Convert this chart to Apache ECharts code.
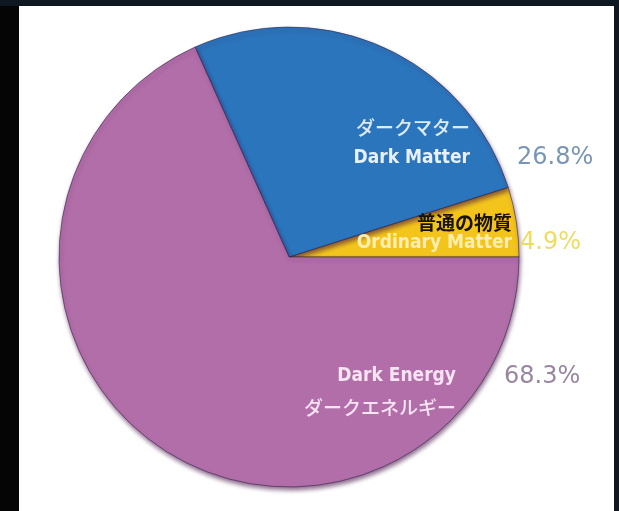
<!DOCTYPE html>
<html>
<head>
<meta charset="utf-8">
<script src="https://cdn.jsdelivr.net/npm/echarts@6/dist/echarts.min.js"></script>
<style>
  html, body { margin: 0; padding: 0; background: #050505; }
  #chart { width: 619px; height: 511px; }
</style>
</head>
<body>
<div id="chart"></div>
<script>
// 宇宙の組成
const namesJa = ['普通の物質', 'ダークマター', 'ダークエネルギー']
const namesEn = ['Ordinary Matter', 'Dark Matter', 'Dark Energy']
const values = [4.9, 26.8, 68.3]
const colors = ['#f3c41c', '#2b75bc', '#b26ea8']
const pctColors = ['#eedc5e', '#7896b6', '#9a86a0']

// label placement (x, y) per slice
const namePos = [[512, 233], [470, 143], [456, 392]]
const pctPos = [[520, 243], [517, 158], [504, 377]]

const chart = echarts.init(document.getElementById('chart'))

const en = 'DejaVu Sans Condensed'
const jp = 'Noto Sans CJK JP'
const nameRich = {
    jpBlack: { fontFamily: jp, fontSize: 19, fontWeight: 'bold', color: '#1a1200', lineHeight: 20, align: 'right' },
    enYellow: { fontFamily: en, fontSize: 19, fontWeight: 'bold', color: '#fbeeb0', lineHeight: 20, align: 'right' },
    jp: { fontFamily: jp, fontSize: 19, fontWeight: 500, color: '#dfeaf8', lineHeight: 31, align: 'right' },
    en: { fontFamily: en, fontSize: 19, fontWeight: 'bold', color: '#e8f0fa', lineHeight: 31, align: 'right' },
    jpP: { fontFamily: jp, fontSize: 19, fontWeight: 500, color: '#f6e4f2', lineHeight: 31, align: 'right' },
    enP: { fontFamily: en, fontSize: 19, fontWeight: 'bold', color: '#f6e4f2', lineHeight: 31, align: 'right' }
}

const sliceData = values.map((v, i) => ({
    value: v,
    name: namesEn[i],
    itemStyle: { color: colors[i] }
}))

const option = {
    backgroundColor: '#050505',
    animation: false,
    graphic: [
        { type: 'rect', z: -10, shape: { x: 0, y: 0, width: 619, height: 6 }, style: { fill: '#0f1822' } },
        { type: 'rect', z: -10, shape: { x: 614, y: 0, width: 5, height: 511 }, style: { fill: '#0f1822' } },
        { type: 'rect', z: -10, shape: { x: 19, y: 6, width: 595, height: 505 }, style: { fill: '#ffffff' } }
    ],
    series: [
        {
            type: 'pie',
            center: [289, 257],
            radius: 230,
            startAngle: 0,
            clockwise: false,
            silent: true,
            itemStyle: {
                borderColor: 'rgba(40,30,70,0.55)',
                borderWidth: 1,
                shadowColor: 'rgba(70,20,70,0.6)',
                shadowBlur: 4,
                shadowOffsetX: 1,
                shadowOffsetY: 3
            },
            label: {
                show: true,
                position: 'inside',
                formatter: (p) => {
                    const i = p.dataIndex
                    if (i === 0) return '{jpBlack|' + namesJa[i] + '}\n{enYellow|' + namesEn[i] + '}'
                    if (i === 1) return '{jp|' + namesJa[i] + '}\n{en|' + namesEn[i] + '}'
                    return '{enP|' + namesEn[i] + '}\n{jpP|' + namesJa[i] + '}'
                },
                rich: nameRich
            },
            labelLine: { show: false },
            labelLayout: (p) => ({
                x: namePos[p.dataIndex][0],
                y: namePos[p.dataIndex][1],
                align: 'right',
                verticalAlign: 'middle'
            }),
            data: sliceData
        },
        {
            // percentages only
            type: 'pie',
            center: [289, 257],
            radius: 230,
            startAngle: 0,
            clockwise: false,
            silent: true,
            itemStyle: { color: 'rgba(0,0,0,0)' },
            label: {
                show: true,
                position: 'inside',
                formatter: (p) => '{v|' + values[p.dataIndex].toFixed(1) + '%}'
            },
            labelLine: { show: false },
            labelLayout: (p) => ({
                x: pctPos[p.dataIndex][0],
                y: pctPos[p.dataIndex][1],
                align: 'left',
                verticalAlign: 'middle'
            }),
            data: values.map((v, i) => ({
                value: v,
                name: namesEn[i],
                label: { rich: { v: { fontFamily: 'DejaVu Sans', fontSize: 24, color: pctColors[i] } } }
            }))
        }
    ]
}

chart.setOption(option)
</script>
</body>
</html>
